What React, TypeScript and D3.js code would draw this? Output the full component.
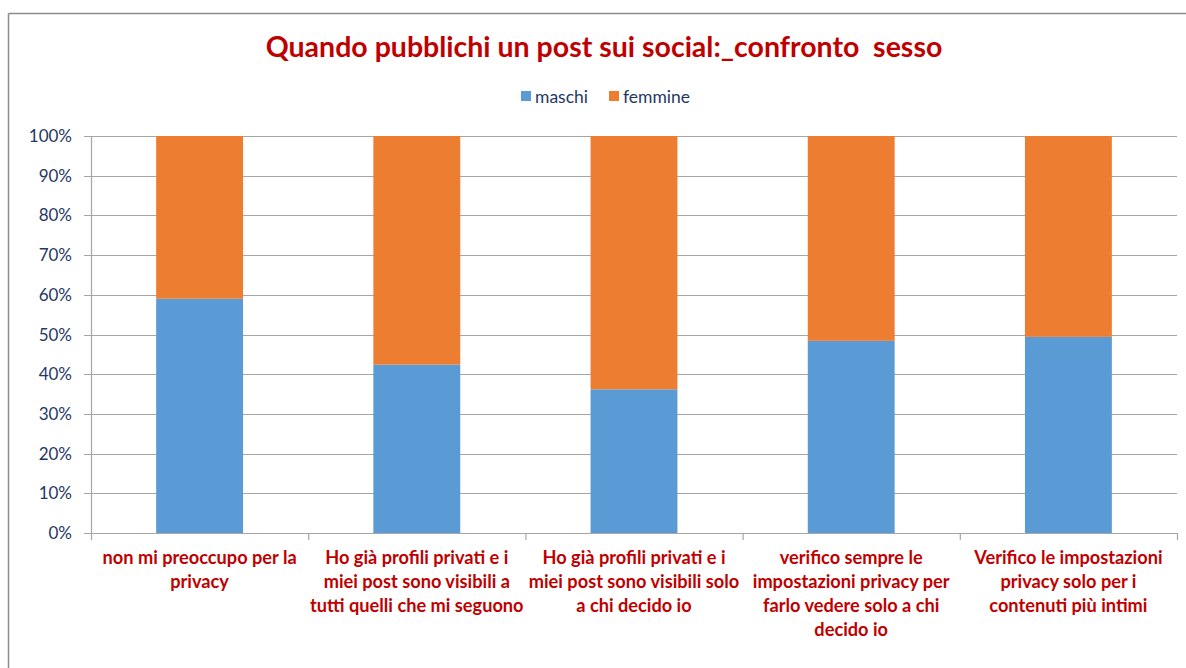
import React from "react";
import * as d3 from "d3";

const title = "Quando pubblichi un post sui social:_confronto  sesso";
const seriesNames = ["maschi", "femmine"];
const categories = [
  "non mi preoccupo per la privacy",
  "Ho già profili privati e i miei post sono visibili a tutti quelli che mi seguono",
  "Ho già profili privati e i miei post sono visibili solo a chi decido io",
  "verifico sempre le impostazioni privacy per farlo vedere solo a chi decido io",
  "Verifico le impostazioni privacy solo per i contenuti più intimi",
];
const categoryLines = [
  ["non mi preoccupo per la", "privacy"],
  ["Ho già profili privati e i", "miei post sono visibili a", "tutti quelli che mi seguono"],
  ["Ho già profili privati e i", "miei post sono visibili solo", "a chi decido io"],
  ["verifico sempre le", "impostazioni privacy per", "farlo vedere solo a chi", "decido io"],
  ["Verifico le impostazioni", "privacy solo per i", "contenuti più intimi"],
];
const maschi = [0.59, 0.424, 0.362, 0.484, 0.494];
const femmine = maschi.map((m) => 1 - m);
const yTicks = [0, 0.1, 0.2, 0.3, 0.4, 0.5, 0.6, 0.7, 0.8, 0.9, 1.0];

const W = 1186;
const H = 668;
const colors = ["#5b9bd5", "#ed7d31"];
const gridColor = "#a6a6a6";
const tickColor = "#1f3864";
const labelColor = "#c00000";
const font = "Lato, 'Open Sans', 'DejaVu Sans', sans-serif";

export default function App() {
  const left = 91, right = 1177, top = 136, bottom = 533;
  const x = d3.scaleBand<string>().domain(categories).range([left, right]).paddingInner(0.6).paddingOuter(0.3);
  const y = d3.scaleLinear().domain([0, 1]).range([bottom, top]);
  const fmt = d3.format(".0%");
  const stacked = d3.stack<any>().keys(seriesNames)(
    categories.map((c, i) => ({ cat: c, maschi: maschi[i], femmine: femmine[i] }))
  );
  const step = x.step();
  const boundaries = d3.range(categories.length + 1).map((i) => left + i * step);

  return (
    <svg width={W} height={H} style={{ position: "absolute", left: 0, top: 0, background: "#fff" }} fontFamily={font}>
      <rect x={0} y={0} width={W} height={H} fill="#fff" />
      <line x1={8.5} x2={W} y1={13.5} y2={13.5} stroke="#8c8c8c" strokeWidth={1.5} />
      <line x1={8.5} x2={8.5} y1={13.5} y2={H} stroke="#8c8c8c" strokeWidth={1.5} />

      <text x={604} y={57} textAnchor="middle" fontSize={28.5} fontWeight={700} fill={labelColor} style={{ whiteSpace: "pre" }}>
        {title}
      </text>

      {/* legend */}
      <rect x={521} y={91} width={10} height={10} fill={colors[0]} />
      <text x={535} y={103} fontSize={17.5} fill={tickColor}>{seriesNames[0]}</text>
      <rect x={609} y={91} width={10} height={10} fill={colors[1]} />
      <text x={623} y={103} fontSize={17.5} fill={tickColor}>{seriesNames[1]}</text>

      {/* gridlines and y ticks */}
      {yTicks.map((t) => (
        <g key={t}>
          <line x1={84} x2={right} y1={Math.round(y(t)) + 0.5} y2={Math.round(y(t)) + 0.5} stroke={gridColor} strokeWidth={1.2} />
          <text x={72} y={y(t) + 6} textAnchor="end" fontSize={17} fill={tickColor}>{fmt(t)}</text>
        </g>
      ))}
      <line x1={left + 0.5} x2={left + 0.5} y1={top} y2={bottom} stroke={gridColor} strokeWidth={1.2} />
      {boundaries.map((b, i) => (
        <line key={i} x1={b + 0.5} x2={b + 0.5} y1={bottom} y2={bottom + 7} stroke={gridColor} strokeWidth={1.2} />
      ))}

      {/* bars */}
      {stacked.map((s, si) => (
        <g key={s.key} fill={colors[si]}>
          {s.map((d, i) => (
            <rect key={i} x={x(categories[i])} y={y(d[1])} width={x.bandwidth()} height={y(d[0]) - y(d[1])} />
          ))}
        </g>
      ))}

      {/* category labels */}
      {categoryLines.map((lines, i) => (
        <text key={i} textAnchor="middle" fontSize={18.2} fontWeight={700} fill={labelColor}>
          {lines.map((ln, j) => (
            <tspan key={j} x={(x(categories[i]) as number) + x.bandwidth() / 2} y={564 + j * 24}>{ln}</tspan>
          ))}
        </text>
      ))}
    </svg>
  );
}
